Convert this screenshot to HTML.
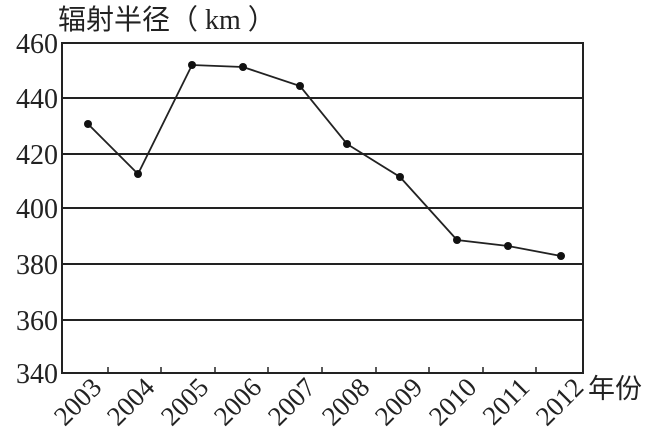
<!DOCTYPE html>
<html><head><meta charset="utf-8"><style>body{margin:0;background:#fff}svg{display:block}
.s{font-family:"Liberation Serif","Noto Serif CJK SC",serif}
.c{font-family:"Liberation Sans","Noto Sans CJK SC",sans-serif}</style></head><body>
<svg width="648" height="436" xmlns="http://www.w3.org/2000/svg">
<rect width="648" height="436" fill="#fff"/>
<text class="c" x="58" y="29" font-size="28" fill="#222">辐射半径（<tspan class="s"> km </tspan>）</text>
<g stroke="#222" stroke-width="2">
<line x1="62" y1="98" x2="583" y2="98"/>
<line x1="62" y1="154" x2="583" y2="154"/>
<line x1="62" y1="208" x2="583" y2="208"/>
<line x1="62" y1="264" x2="583" y2="264"/>
<line x1="62" y1="320" x2="583" y2="320"/>
<rect x="62" y="43" width="521" height="330" fill="none"/>
<g stroke-width="1.5">
<line x1="108" y1="373" x2="108" y2="367"/><line x1="161" y1="373" x2="161" y2="367"/><line x1="215" y1="373" x2="215" y2="367"/><line x1="268" y1="373" x2="268" y2="367"/><line x1="322" y1="373" x2="322" y2="367"/><line x1="376" y1="373" x2="376" y2="367"/><line x1="429" y1="373" x2="429" y2="367"/><line x1="483" y1="373" x2="483" y2="367"/><line x1="536" y1="373" x2="536" y2="367"/>
</g>
</g>
<polyline fill="none" stroke="#222" stroke-width="1.8" points="88,124 138,174 192,65 243,67 300,86 347,144 400,177 457,240 508,246 561,256"/>
<g fill="#111">
<circle cx="88" cy="124" r="4"/><circle cx="138" cy="174" r="4"/><circle cx="192" cy="65" r="4"/><circle cx="243" cy="67" r="4"/><circle cx="300" cy="86" r="4"/><circle cx="347" cy="144" r="4"/><circle cx="400" cy="177" r="4"/><circle cx="457" cy="240" r="4"/><circle cx="508" cy="246" r="4"/><circle cx="561" cy="256" r="4"/>
</g>
<g class="s" font-size="28" fill="#222" text-anchor="end">
<text x="58" y="53">460</text><text x="58" y="108">440</text><text x="58" y="164">420</text><text x="58" y="218">400</text><text x="58" y="274">380</text><text x="58" y="330">360</text><text x="58" y="383">340</text>
</g>
<g class="s" font-size="27" fill="#222" text-anchor="end">
<text transform="translate(103,389) rotate(-45)">2003</text>
<text transform="translate(156,389) rotate(-45)">2004</text>
<text transform="translate(210,389) rotate(-45)">2005</text>
<text transform="translate(263,389) rotate(-45)">2006</text>
<text transform="translate(317,389) rotate(-45)">2007</text>
<text transform="translate(371,389) rotate(-45)">2008</text>
<text transform="translate(424,389) rotate(-45)">2009</text>
<text transform="translate(478,389) rotate(-45)">2010</text>
<text transform="translate(531,389) rotate(-45)">2011</text>
<text transform="translate(585,389) rotate(-45)">2012</text>
</g>
<text class="c" x="588" y="398" font-size="27" fill="#222">年份</text>
</svg>
</body></html>
